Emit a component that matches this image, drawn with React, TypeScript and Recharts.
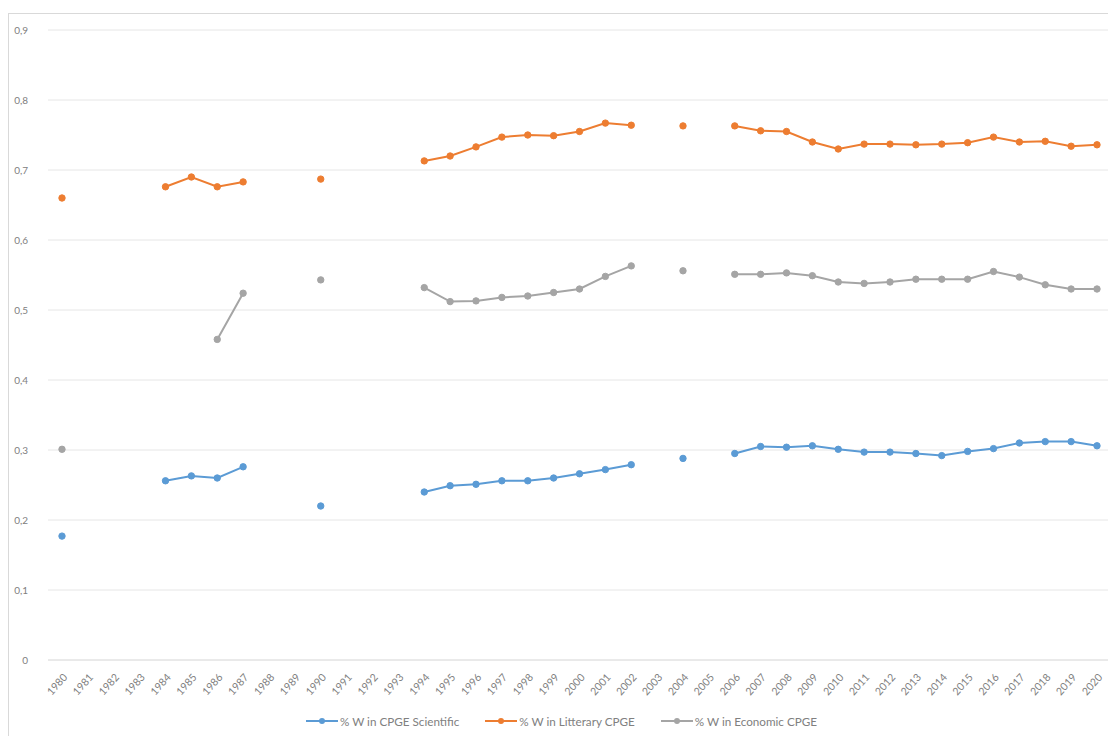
import React from 'react';
import { LineChart, Line, XAxis, YAxis, CartesianGrid, Legend } from 'recharts';

const years: string[] = [
  '1980','1981','1982','1983','1984','1985','1986','1987','1988','1989',
  '1990','1991','1992','1993','1994','1995','1996','1997','1998','1999',
  '2000','2001','2002','2003','2004','2005','2006','2007','2008','2009',
  '2010','2011','2012','2013','2014','2015','2016','2017','2018','2019','2020',
];

const scientific: (number | null)[] = [
  0.177, null, null, null, 0.256, 0.263, 0.260, 0.276, null, null,
  0.220, null, null, null, 0.240, 0.249, 0.251, 0.256, 0.256, 0.260,
  0.266, 0.272, 0.279, null, 0.288, null, 0.295, 0.305, 0.304, 0.306,
  0.301, 0.297, 0.297, 0.295, 0.292, 0.298, 0.302, 0.310, 0.312, 0.312, 0.306,
];

const literary: (number | null)[] = [
  0.660, null, null, null, 0.676, 0.690, 0.676, 0.683, null, null,
  0.687, null, null, null, 0.713, 0.720, 0.733, 0.747, 0.750, 0.749,
  0.755, 0.767, 0.764, null, 0.763, null, 0.763, 0.756, 0.755, 0.740,
  0.730, 0.737, 0.737, 0.736, 0.737, 0.739, 0.747, 0.740, 0.741, 0.734, 0.736,
];

const economic: (number | null)[] = [
  0.301, null, null, null, null, null, 0.458, 0.524, null, null,
  0.543, null, null, null, 0.532, 0.512, 0.513, 0.518, 0.520, 0.525,
  0.530, 0.548, 0.563, null, 0.556, null, 0.551, 0.551, 0.553, 0.549,
  0.540, 0.538, 0.540, 0.544, 0.544, 0.544, 0.555, 0.547, 0.536, 0.530, 0.530,
];

const yTicks: number[] = [0, 0.1, 0.2, 0.3, 0.4, 0.5, 0.6, 0.7, 0.8, 0.9];

const seriesNames = ['% W in CPGE Scientific', '% W in Litterary CPGE', '% W in Economic CPGE'];
const seriesColors = ['#5B9BD5', '#ED7D31', '#A5A5A5'];

const data = years.map((year, i) => ({
  year,
  sci: scientific[i],
  lit: literary[i],
  eco: economic[i],
}));

const FONT = 'Lato, "Open Sans", sans-serif';
const TEXT_COLOR = '#808080';

const XTick = (props: any) => {
  const { x, y, payload } = props;
  return (
    <text
      transform={`translate(${x + 4},${y + 8}) rotate(-48)`}
      textAnchor="end"
      dominantBaseline="middle"
      fontSize={10.5}
      fontFamily={FONT}
      fill={TEXT_COLOR}
    >
      {payload.value}
    </text>
  );
};

const LegendContent = () => (
  <div
    style={{
      display: 'flex',
      justifyContent: 'center',
      alignItems: 'center',
      gap: 26,
      fontFamily: FONT,
      fontSize: 11.7,
      color: TEXT_COLOR,
      paddingLeft: 4,
    }}
  >
    {seriesNames.map((name, i) => (
      <div key={name} style={{ display: 'flex', alignItems: 'center', gap: 2 }}>
        <svg width={32} height={10}>
          <line x1={0} y1={5} x2={32} y2={5} stroke={seriesColors[i]} strokeWidth={2} />
          <circle cx={16} cy={5} r={3} fill={seriesColors[i]} />
        </svg>
        <span>{name}</span>
      </div>
    ))}
  </div>
);

export default function App() {
  return (
    <div style={{ paddingTop: 5 }}>
      <div style={{ width: 1106, height: 722, border: '1px solid #d9d9d9', background: '#fff' }}>
        <LineChart
          width={1106}
          height={722}
          data={data}
          margin={{ top: 16, right: 5, left: 0, bottom: 0 }}
        >
          <CartesianGrid vertical={false} stroke="#e6e6e6" />
          <XAxis
            dataKey="year"
            interval={0}
            tickLine={false}
            axisLine={{ stroke: '#e0e0e0' }}
            tick={<XTick />}
            height={54}
            padding={{ left: 14, right: 13 }}
          />
          <YAxis
            domain={[0, 0.9]}
            ticks={yTicks}
            width={39}
            axisLine={false}
            tickLine={false}
            tickMargin={14}
            tickFormatter={(v: number) => (v === 0 ? '0' : v.toFixed(1).replace('.', ','))}
            tick={{ fontSize: 10, fontFamily: FONT, fill: TEXT_COLOR }}
          />
          <Legend content={<LegendContent />} height={22} verticalAlign="bottom" />
          <Line
            dataKey="sci"
            name={seriesNames[0]}
            stroke={seriesColors[0]}
            strokeWidth={2}
            dot={{ r: 3.2, fill: seriesColors[0], stroke: seriesColors[0], strokeWidth: 1 }}
            activeDot={false}
            connectNulls={false}
            isAnimationActive={false}
          />
          <Line
            dataKey="lit"
            name={seriesNames[1]}
            stroke={seriesColors[1]}
            strokeWidth={2}
            dot={{ r: 3.2, fill: seriesColors[1], stroke: seriesColors[1], strokeWidth: 1 }}
            activeDot={false}
            connectNulls={false}
            isAnimationActive={false}
          />
          <Line
            dataKey="eco"
            name={seriesNames[2]}
            stroke={seriesColors[2]}
            strokeWidth={2}
            dot={{ r: 3.2, fill: seriesColors[2], stroke: seriesColors[2], strokeWidth: 1 }}
            activeDot={false}
            connectNulls={false}
            isAnimationActive={false}
          />
        </LineChart>
      </div>
    </div>
  );
}
